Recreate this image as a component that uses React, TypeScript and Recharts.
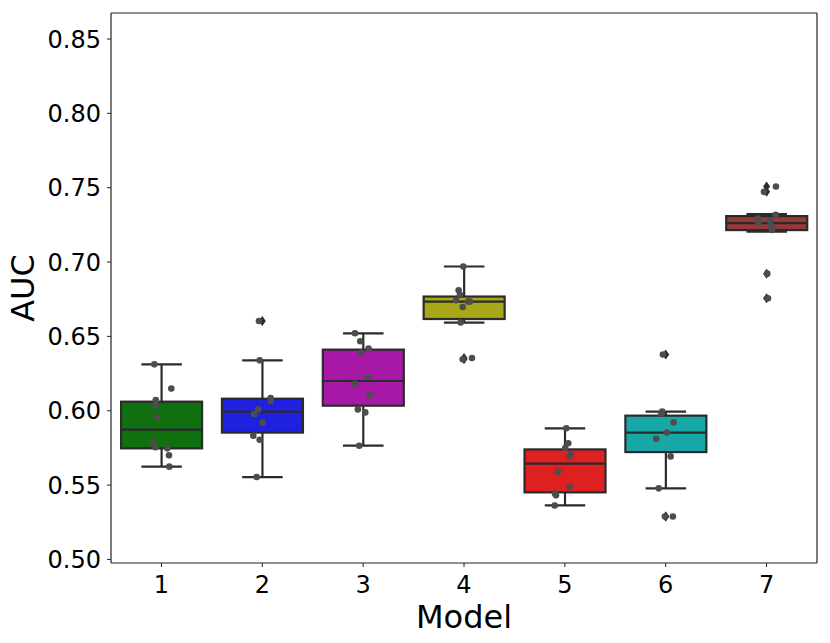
import { ComposedChart, Bar, Scatter, XAxis, YAxis, ReferenceLine } from 'recharts'

const models = ['1', '2', '3', '4', '5', '6', '7']
const boxColors = ['#107010', '#2020df', '#a718a7', '#a7a718', '#df2020', '#18a7a7', '#963939']

const whiskerLow = [0.5624, 0.5554, 0.5765, 0.6593, 0.5363, 0.5478, 0.7205]
const q1 = [0.5747, 0.5853, 0.6034, 0.6617, 0.5451, 0.5722, 0.7215]
const medians = [0.5873, 0.5994, 0.62, 0.6734, 0.5644, 0.5853, 0.7262]
const q3 = [0.6061, 0.6081, 0.6411, 0.6768, 0.574, 0.5967, 0.7309]
const whiskerHigh = [0.6312, 0.6339, 0.6521, 0.697, 0.5882, 0.5994, 0.7322]

const fliers = [
  [],
  [0.6604],
  [],
  [0.6346, 0.6355],
  [],
  [0.6378, 0.5289, 0.5289],
  [0.7508, 0.7472, 0.6922, 0.6757],
]

// strip plot values per model and their horizontal jitter (in model units)
const stripValues = [
  [0.6312, 0.6149, 0.6072, 0.6036, 0.5956, 0.5792, 0.5754, 0.5747, 0.57, 0.5624],
  [0.6604, 0.6339, 0.6086, 0.6066, 0.6009, 0.5978, 0.592, 0.5832, 0.5805, 0.5554],
  [0.6521, 0.6467, 0.6418, 0.6389, 0.6225, 0.618, 0.6104, 0.6009, 0.5989, 0.5765],
  [0.697, 0.681, 0.6779, 0.6743, 0.6734, 0.6734, 0.6698, 0.6593, 0.6346, 0.6355],
  [0.5882, 0.5781, 0.5749, 0.5711, 0.5695, 0.559, 0.5489, 0.5444, 0.5431, 0.5363],
  [0.6378, 0.5994, 0.598, 0.5922, 0.5853, 0.5812, 0.5693, 0.5478, 0.5289, 0.5289],
  [0.7508, 0.7472, 0.7317, 0.7293, 0.7266, 0.7277, 0.7243, 0.7216, 0.6922, 0.6757],
]
const stripJitter = [
  [-0.07, 0.098, -0.056, -0.06, -0.044, -0.086, -0.06, 0.058, 0.075, 0.078],
  [-0.033, -0.026, 0.083, 0.083, -0.04, -0.082, 0.004, -0.089, -0.026, -0.056],
  [-0.081, -0.029, 0.054, -0.019, 0.045, -0.081, 0.064, -0.052, 0.021, -0.039],
  [-0.007, -0.053, -0.04, -0.079, 0.059, 0.04, -0.013, -0.033, -0.013, 0.079],
  [0.014, 0.034, 0.004, 0.06, 0.048, -0.068, 0.048, -0.098, -0.088, -0.101],
  [-0.028, -0.035, -0.045, 0.078, 0.012, -0.094, 0.049, -0.07, -0.008, 0.071],
  [0.093, -0.026, 0.09, -0.085, -0.079, 0.034, 0.044, 0.053, 0.007, 0.014],
]

const yDomain = [0.4976, 0.8675]
const xDomain = [0.5, 7.5]
const yTicks = [0.5, 0.55, 0.6, 0.65, 0.7, 0.75, 0.8, 0.85]

const boxData = models.map((m, i) => ({
  model: m,
  range: [whiskerLow[i], whiskerHigh[i]],
  q1: q1[i],
  median: medians[i],
  q3: q3[i],
  color: boxColors[i],
}))

const stripData = stripValues.flatMap((vals, i) =>
  vals.map((v, j) => ({ x: i + 1 + stripJitter[i][j], y: v }))
)
const flierData = fliers.flatMap((vals, i) => vals.map((v) => ({ x: i + 1, y: v })))

const LINE = '#2b2b2b'
const FRAME = '#222'
const FONT = 'DejaVu Sans'

function BoxShape(props: any) {
  const { x, y, width, height, payload } = props
  const [lo, hi] = payload.range
  const k = height / (hi - lo)
  const yOf = (v: number) => y + (hi - v) * k
  const cx = x + width / 2
  const capHalf = width / 4
  const top = yOf(payload.q3)
  const bottom = yOf(payload.q1)
  const med = yOf(payload.median)
  return (
    <g>
      <line x1={cx} x2={cx} y1={y} y2={top} stroke={LINE} strokeWidth={2.2} />
      <line x1={cx} x2={cx} y1={bottom} y2={y + height} stroke={LINE} strokeWidth={2.2} />
      <line x1={cx - capHalf} x2={cx + capHalf} y1={y} y2={y} stroke={LINE} strokeWidth={2.2} />
      <line x1={cx - capHalf} x2={cx + capHalf} y1={y + height} y2={y + height} stroke={LINE} strokeWidth={2.2} />
      <rect x={x} y={top} width={width} height={bottom - top} fill={payload.color} stroke={LINE} strokeWidth={2.2} />
      <line x1={x} x2={x + width} y1={med} y2={med} stroke={LINE} strokeWidth={2.2} />
    </g>
  )
}

function Dot(props: any) {
  return <circle cx={props.cx} cy={props.cy} r={3.3} fill="#4d4d4d" />
}

function Diamond(props: any) {
  const { cx, cy } = props
  return (
    <polygon
      points={`${cx},${cy - 5} ${cx + 3.5},${cy} ${cx},${cy + 5} ${cx - 3.5},${cy}`}
      fill={LINE}
    />
  )
}

function YTitle(props: any) {
  const vb = props.viewBox
  const cx = vb.x + 22.5
  const cy = vb.y + vb.height / 2
  return (
    <text
      x={cx}
      y={cy}
      transform={`rotate(-90 ${cx} ${cy})`}
      textAnchor="middle"
      dominantBaseline="central"
      fontSize={32}
      fontFamily={FONT}
      fill="#000"
    >
      AUC
    </text>
  )
}

export default function App() {
  return (
    <div style={{ position: 'absolute', left: 0, top: 0, fontFamily: FONT }}>
      <ComposedChart
        width={830}
        height={643}
        data={boxData}
        margin={{ top: 13, right: 13, bottom: 0, left: 0 }}
      >
        <XAxis
          xAxisId="cat"
          dataKey="model"
          type="category"
          height={80}
          tick={{ fill: '#000', fontSize: 24, fontFamily: FONT }}
          tickSize={4}
          tickMargin={9}
          axisLine={{ stroke: FRAME, strokeWidth: 1.2 }}
          tickLine={{ stroke: FRAME }}
          label={{ value: 'Model', position: 'insideBottom', offset: 15, fontSize: 32, fill: '#000', fontFamily: FONT }}
        />
        <XAxis xAxisId="num" type="number" dataKey="x" domain={xDomain} allowDataOverflow hide />
        <YAxis
          yAxisId="left"
          type="number"
          domain={yDomain}
          allowDataOverflow
          ticks={yTicks}
          width={111}
          tickFormatter={(v) => Number(v).toFixed(2)}
          tick={{ fill: '#000', fontSize: 24, fontFamily: FONT }}
          tickSize={4}
          tickMargin={6}
          axisLine={{ stroke: FRAME, strokeWidth: 1.2 }}
          tickLine={{ stroke: FRAME }}
          label={YTitle}
        />
        <Bar
          xAxisId="cat"
          yAxisId="left"
          dataKey="range"
          shape={BoxShape}
          isAnimationActive={false}
        />
        <Scatter
          xAxisId="num"
          yAxisId="left"
          data={flierData}
          dataKey="y"
          shape={Diamond}
          isAnimationActive={false}
        />
        <Scatter
          xAxisId="num"
          yAxisId="left"
          data={stripData}
          dataKey="y"
          shape={Dot}
          isAnimationActive={false}
        />
        {/* top and right spines */}
        <ReferenceLine xAxisId="num" yAxisId="left" y={yDomain[1]} stroke={FRAME} strokeWidth={1.2} ifOverflow="visible" />
        <ReferenceLine xAxisId="num" yAxisId="left" x={xDomain[1]} stroke={FRAME} strokeWidth={1.2} ifOverflow="visible" />
      </ComposedChart>
    </div>
  )
}
